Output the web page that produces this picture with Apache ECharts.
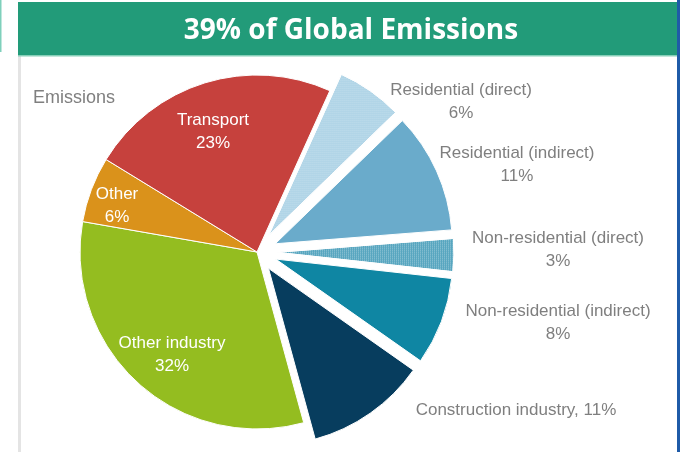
<!DOCTYPE html>
<html>
<head>
<meta charset="utf-8">
<script src="https://cdn.jsdelivr.net/npm/echarts@6/dist/echarts.min.js"></script>
<style>
  html, body { margin: 0; padding: 0; background: #ffffff; }
  #chart { width: 680px; height: 452px; }
</style>
</head>
<body>
<div id="chart"></div>
<script>
// Building-sector share of global emissions, clockwise from the top
const categories = [
  'Residential (direct)',
  'Residential (indirect)',
  'Non-residential (direct)',
  'Non-residential (indirect)',
  'Construction industry',
  'Other industry',
  'Other',
  'Transport'
];
const shares = [6, 11, 3, 8, 11, 32, 6, 23];
// building-related slices are pulled out of the pie
const pulledOut = [true, true, true, true, true, false, false, false];
const titleText = '39% of Global Emissions';
const seriesName = 'Emissions';

// presentation
const sliceColors = ['#add3e6', '#6aabcb', '#58a6c0', '#0f86a3', '#073d5e', '#94bd20', '#da921b', '#c6413d'];
const dotted = [true, false, true, false, false, false, false, false];
const insideLabel = [false, false, false, false, false, true, true, true];
const singleLine = [false, false, false, false, true, false, false, false];
const labelAnchors = [
  [461, 102], [517, 165], [558, 250], [558, 323], [516, 410],
  [172, 355], [117, 206], [213, 132]
];

const FONT = "'Liberation Sans', Arial, sans-serif";
const CENTER = [257, 252];
const RADIUS = 177;
const START = 65.7;

const dotDecal = {
  symbol: 'rect',
  symbolSize: 1,
  dashArrayX: [1, 1],
  dashArrayY: [1, 1],
  color: 'rgba(255,255,255,0.4)'
};

const sliceData = categories.map((name, i) => {
  const item = {
    name: name,
    value: shares[i],
    selected: pulledOut[i],
    itemStyle: { color: sliceColors[i] }
  };
  if (dotted[i]) item.itemStyle.decal = dotDecal;
  return item;
});

// same slices again, unselected and invisible, carrying the text labels
const labelData = categories.map((name, i) => ({
  name: name,
  value: shares[i],
  label: { color: insideLabel[i] ? '#ffffff' : '#7f7f7f' }
}));

const chart = echarts.init(document.getElementById('chart'), null, { renderer: 'canvas' });

chart.setOption({
  backgroundColor: '#ffffff',
  animation: false,
  graphic: [
    // page edges
    { type: 'rect', shape: { x: 0, y: 0, width: 1.5, height: 52 }, style: { fill: '#7fd0bb' }, silent: true },
    { type: 'rect', shape: { x: 18, y: 55, width: 3, height: 397 }, style: { fill: '#e4e4e4' }, silent: true },
    { type: 'rect', shape: { x: 677, y: 0, width: 3, height: 452 }, style: { fill: '#1f5ba8' }, silent: true },
    // header band
    { type: 'rect', shape: { x: 18, y: 2, width: 659, height: 54 }, style: { fill: '#229b79' }, silent: true },
    { type: 'rect', shape: { x: 18, y: 55, width: 659, height: 1.5 }, style: { fill: '#86cfb8' }, silent: true },
    {
      type: 'text', x: 351, y: 31, silent: true,
      style: {
        text: titleText, fill: '#ffffff',
        font: "bold 28px 'Open Sans', 'Liberation Sans', sans-serif",
        textAlign: 'center', textVerticalAlign: 'middle'
      }
    },
    {
      type: 'text', x: 33, y: 98, silent: true,
      style: {
        text: seriesName, fill: '#7f7f7f',
        font: '18px ' + FONT,
        textAlign: 'left', textVerticalAlign: 'middle'
      }
    }
  ],
  series: [
    {
      type: 'pie',
      name: seriesName,
      center: CENTER,
      radius: [0, RADIUS],
      startAngle: START,
      clockwise: true,
      selectedMode: 'multiple',
      selectedOffset: 20,
      silent: true,
      itemStyle: { borderColor: '#ffffff', borderWidth: 1 },
      label: { show: false },
      labelLine: { show: false },
      emphasis: { disabled: true },
      data: sliceData
    },
    {
      type: 'pie',
      name: seriesName + ' labels',
      center: CENTER,
      radius: [0, RADIUS],
      startAngle: START,
      clockwise: true,
      silent: true,
      z: 3,
      itemStyle: { color: 'rgba(0,0,0,0)', borderWidth: 0 },
      label: {
        show: true,
        position: 'inside',
        fontFamily: FONT,
        fontSize: 17,
        lineHeight: 23,
        align: 'center',
        formatter: p => singleLine[p.dataIndex]
          ? p.name + ', ' + p.value + '%'
          : p.name + '\n' + p.value + '%'
      },
      labelLine: { show: false },
      labelLayout: p => ({
        x: labelAnchors[p.dataIndex][0],
        y: labelAnchors[p.dataIndex][1],
        align: 'center',
        verticalAlign: 'middle'
      }),
      emphasis: { disabled: true },
      data: labelData
    }
  ]
});
</script>
</body>
</html>
